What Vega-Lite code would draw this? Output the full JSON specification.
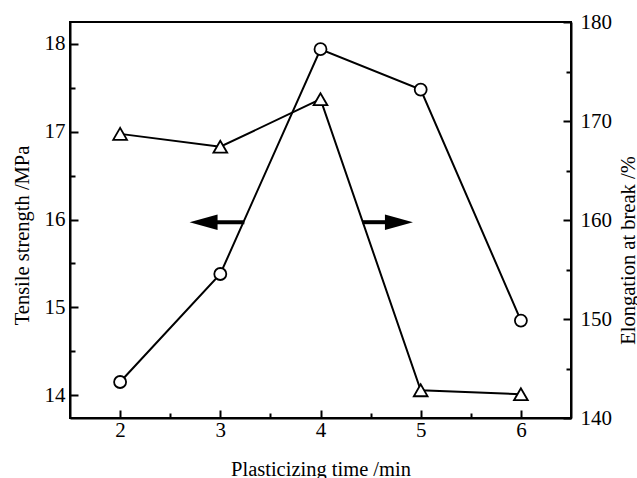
{
  "$schema": "https://vega.github.io/schema/vega-lite/v6.json",
  "autosize": {"type": "none"},
  "padding": {"left": 70, "top": 22, "right": 66, "bottom": 60},
  "width": 501,
  "height": 396,
  "background": "white",
  "config": {
    "view": {"stroke": "black", "strokeWidth": 2},
    "font": "Liberation Serif",
    "axis": {
      "domainColor": "black",
      "domainWidth": 2,
      "tickColor": "black",
      "tickWidth": 2,
      "labelColor": "black",
      "labelFont": "Liberation Serif",
      "labelFontSize": 21,
      "titleFont": "Liberation Serif",
      "titleFontSize": 20.5,
      "titleFontWeight": "normal",
      "titleColor": "black",
      "grid": false
    }
  },
  "datasets": {
    "tensile": [
      {"time": 2, "value": 14.15},
      {"time": 3, "value": 15.38},
      {"time": 4, "value": 17.94},
      {"time": 5, "value": 17.48},
      {"time": 6, "value": 14.85}
    ],
    "elongation": [
      {"time": 2, "value": 168.7},
      {"time": 3, "value": 167.4},
      {"time": 4, "value": 172.2},
      {"time": 5, "value": 142.8},
      {"time": 6, "value": 142.4}
    ],
    "arrows": [
      {"dir": "left", "start": 2.85, "end": 3.24, "head": 2.833, "level": 15.97},
      {"dir": "right", "start": 4.42, "end": 4.72, "head": 4.783, "level": 15.97}
    ]
  },
  "layer": [
    {
      "layer": [
        {
          "data": {"name": "tensile"},
          "mark": {"type": "line", "color": "black", "strokeWidth": 2},
          "encoding": {
            "x": {"field": "time", "type": "quantitative",
              "scale": {"domain": [1.5, 6.5], "nice": false, "zero": false},
              "axis": {"title": "Plasticizing time /min",
                "values": [2, 2.5, 3, 3.5, 4, 4.5, 5, 5.5, 6],
                "format": "~g",
                "labelExpr": "datum.value % 1 === 0 ? datum.label : ''",
                "tickSize": {"condition": {"test": "datum.value % 1 === 0", "value": -8}, "value": -5},
                "labelPadding": 9,
                "titleX": 250.5, "titleY": 57, "titleAlign": "center", "titleBaseline": "alphabetic"}},
            "y": {"field": "value", "type": "quantitative",
              "scale": {"domain": [13.74, 18.25], "nice": false, "zero": false},
              "axis": {"title": "Tensile strength /MPa", "orient": "left",
                "values": [14, 14.5, 15, 15.5, 16, 16.5, 17, 17.5, 18],
                "format": "~g",
                "labelExpr": "datum.value % 1 === 0 ? datum.label : ''",
                "tickSize": {"condition": {"test": "datum.value % 1 === 0", "value": -8}, "value": -5},
                "labelPadding": 13,
                "titleAngle": 270, "titleX": -48, "titleY": 213, "titleAlign": "center", "titleBaseline": "middle"}}
          }
        },
        {
          "data": {"name": "tensile"},
          "mark": {"type": "point", "shape": "circle", "filled": true, "fill": "white", "stroke": "black", "strokeWidth": 1.8, "size": 144, "opacity": 1},
          "encoding": {
            "x": {"field": "time", "type": "quantitative"},
            "y": {"field": "value", "type": "quantitative"}
          }
        },
        {
          "data": {"name": "arrows"},
          "mark": {"type": "rule", "color": "black", "strokeWidth": 4},
          "encoding": {
            "x": {"field": "start", "type": "quantitative"},
            "x2": {"field": "end"},
            "y": {"field": "level", "type": "quantitative"}
          }
        },
        {
          "data": {"name": "arrows"},
          "transform": [{"filter": "datum.dir === 'left'"}],
          "mark": {"type": "point", "shape": "M -1 0 L 1 -0.55 L 1 0.55 Z", "filled": true, "color": "black", "size": 784, "opacity": 1},
          "encoding": {
            "x": {"field": "head", "type": "quantitative"},
            "y": {"field": "level", "type": "quantitative"}
          }
        },
        {
          "data": {"name": "arrows"},
          "transform": [{"filter": "datum.dir === 'right'"}],
          "mark": {"type": "point", "shape": "M 1 0 L -1 -0.55 L -1 0.55 Z", "filled": true, "color": "black", "size": 784, "opacity": 1},
          "encoding": {
            "x": {"field": "head", "type": "quantitative"},
            "y": {"field": "level", "type": "quantitative"}
          }
        }
      ]
    },
    {
      "layer": [
        {
          "data": {"name": "elongation"},
          "mark": {"type": "line", "color": "black", "strokeWidth": 2},
          "encoding": {
            "x": {"field": "time", "type": "quantitative"},
            "y": {"field": "value", "type": "quantitative",
              "scale": {"domain": [140, 180], "nice": false, "zero": false},
              "axis": {"title": "Elongation at break /%", "orient": "right",
                "values": [140, 145, 150, 155, 160, 165, 170, 175, 180],
                "format": "~g",
                "labelExpr": "datum.value % 10 === 0 ? datum.label : ''",
                "tickSize": {"condition": {"test": "datum.value % 10 === 0", "value": -8}, "value": -5},
                "labelPadding": 17,
                "titleAngle": 270, "titleX": 57, "titleY": 228, "titleAlign": "center", "titleBaseline": "middle"}}
          }
        },
        {
          "data": {"name": "elongation"},
          "mark": {"type": "point", "shape": "triangle-up", "filled": true, "fill": "white", "stroke": "black", "strokeWidth": 1.8, "size": 190, "opacity": 1},
          "encoding": {
            "x": {"field": "time", "type": "quantitative"},
            "y": {"field": "value", "type": "quantitative"}
          }
        }
      ]
    }
  ],
  "resolve": {"scale": {"y": "independent"}, "axis": {"y": "independent"}}
}
